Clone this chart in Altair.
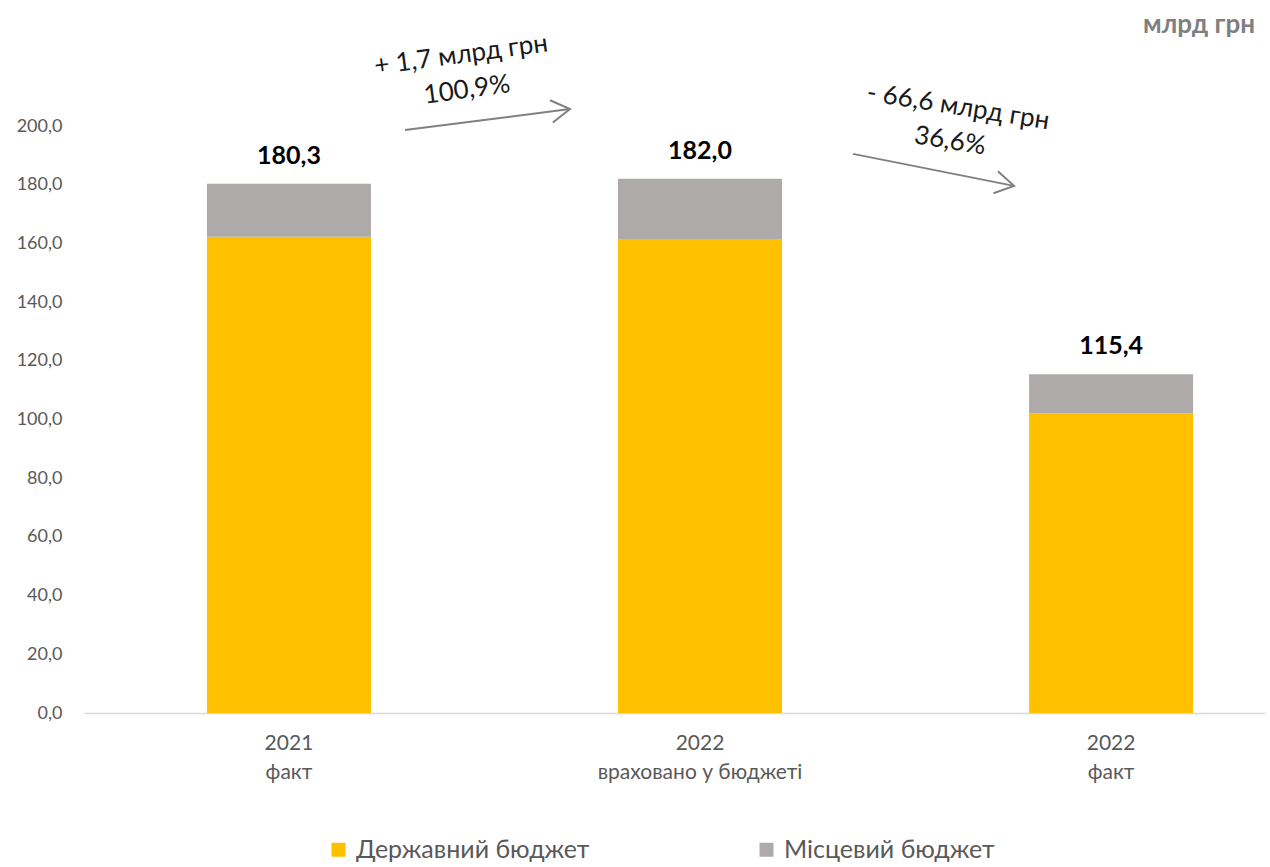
import altair as alt
import pandas as pd

# ---- data ----
categories = ["2021|факт", "2022|враховано у бюджеті", "2022|факт"]
series = ["Державний бюджет", "Місцевий бюджет"]
state_budget = [162.3, 161.5, 102.1]
local_budget = [18.0, 20.5, 13.3]
colors = ["#FFC000", "#AEAAAA"]

# annotation positions (x as fraction of plot width, y in data units)
arrow_x = [0.2718, 0.6511]
arrow_x2 = [0.4115, 0.7875]
arrow_y = [198.6, 190.5]
arrow_y2 = [205.8, 179.6]
arrow_angle = [352.7, 11.2]

ann_text = ["+ 1,7 млрд грн", "100,9%", "- 66,6 млрд грн", "36,6%"]
ann_x = [0.3192, 0.3243, 0.7401, 0.7333]
ann_y = [224.2, 212.3, 206.5, 194.9]
ann_angle = [352.3, 352.3, 9.0, 9.0]

unit_text = ["млрд грн"]
unit_x = [0.9915]
unit_y = [234.4]

FONT = "Lato"

rows = []
for i, c in enumerate(categories):
    rows.append({"cat": c, "series": series[0], "value": state_budget[i], "ord": 0})
    rows.append({"cat": c, "series": series[1], "value": local_budget[i], "ord": 1})
bars_df = pd.DataFrame(rows)

totals = [round(a + b, 1) for a, b in zip(state_budget, local_budget)]
totals_df = pd.DataFrame({
    "cat": categories,
    "total": totals,
    "label": [f"{t:.1f}".replace(".", ",") for t in totals],
})

arrows_df = pd.DataFrame({"x": arrow_x, "x2": arrow_x2, "y": arrow_y,
                          "y2": arrow_y2, "angle": arrow_angle})
ann_df = pd.DataFrame({"text": ann_text, "x": ann_x, "y": ann_y, "angle": ann_angle})
unit_df = pd.DataFrame({"text": unit_text, "x": unit_x, "y": unit_y})

yscale = alt.Scale(domain=[0, 200], nice=False)
xband = alt.Scale(paddingInner=0.601, paddingOuter=0.237, align=0.631)
xlin = alt.Scale(domain=[0, 1], nice=False, zero=False)

y_axis = alt.Axis(values=list(range(0, 201, 20)),
                  labelExpr="replace(format(datum.value, '.1f'), '.', ',')",
                  labelFontSize=18, labelColor="#595959", labelFont=FONT,
                  labelPadding=22, domain=False, ticks=False, grid=False)

x_enc = alt.X("cat:N", sort=None, scale=xband, title=None,
              axis=alt.Axis(labelExpr="split(datum.label, '|')", labelAngle=0,
                            labelFontSize=21, labelLineHeight=29, labelPadding=19,
                            labelColor="#595959", labelFont=FONT, ticks=False,
                            labelLimit=500,
                            domainColor="#D9D9D9", domainWidth=1.5, grid=False))

bars = alt.Chart(bars_df).mark_bar().encode(
    x=x_enc,
    y=alt.Y("value:Q", stack="zero", scale=yscale, title=None, axis=y_axis),
    color=alt.Color("series:N", scale=alt.Scale(domain=series, range=colors),
                    legend=alt.Legend(orient="none", legendX=242, legendY=711,
                                      direction="horizontal", title=None,
                                      symbolType="square", symbolSize=196,
                                      symbolStrokeWidth=0, labelFontSize=25,
                                      labelFont=FONT, labelColor="#595959",
                                      labelOffset=5, columnPadding=164,
                                      labelLimit=400)),
    order=alt.Order("ord:Q", sort="ascending"),
)

bar_labels = alt.Chart(totals_df).mark_text(
    font=FONT, fontSize=25, fontWeight="bold", color="#000000",
    baseline="alphabetic", dy=-20,
).encode(
    x=alt.X("cat:N", sort=None, scale=xband),
    y=alt.Y("total:Q", scale=yscale, title=None, axis=y_axis),
    text="label:N",
)

main = alt.layer(bars, bar_labels)

shafts = alt.Chart(arrows_df).mark_rule(color="#808080", strokeWidth=2).encode(
    x=alt.X("x:Q", scale=xlin, axis=None),
    x2="x2:Q",
    y=alt.Y("y:Q", scale=yscale, title=None, axis=y_axis),
    y2="y2:Q",
)

heads = alt.Chart(arrows_df).mark_point(
    shape="M -1 -0.6 L 0 0 L -1 0.6", filled=False, stroke="#808080",
    strokeWidth=2, size=1400, opacity=1,
).encode(
    x=alt.X("x2:Q", scale=xlin, axis=None),
    y=alt.Y("y2:Q", scale=yscale, title=None, axis=y_axis),
    angle=alt.Angle("angle:Q", scale=None),
)

ann = alt.Chart(ann_df).mark_text(
    font=FONT, fontSize=26, color="#1a1a1a", align="center", baseline="middle",
).encode(
    x=alt.X("x:Q", scale=xlin, axis=None),
    y=alt.Y("y:Q", scale=yscale, title=None, axis=y_axis),
    text="text:N",
    angle=alt.Angle("angle:Q", scale=None),
)

unit = alt.Chart(unit_df).mark_text(
    font=FONT, fontSize=26, fontWeight="bold", color="#7F7F7F",
    align="right", baseline="middle",
).encode(
    x=alt.X("x:Q", scale=xlin, axis=None),
    y=alt.Y("y:Q", scale=yscale, title=None, axis=y_axis),
    text="text:N",
)

overlay = alt.layer(shafts, heads, ann, unit)

chart = alt.layer(main, overlay).resolve_scale(x="independent").properties(
    width=1181, height=587,
    autosize=alt.AutoSizeParams(type="none"),
    padding={"left": 84, "top": 126, "right": 5, "bottom": 154},
    background="white",
).configure_view(stroke=None)

chart.save("out.html", embed_options={"renderer": "svg", "actions": False})
